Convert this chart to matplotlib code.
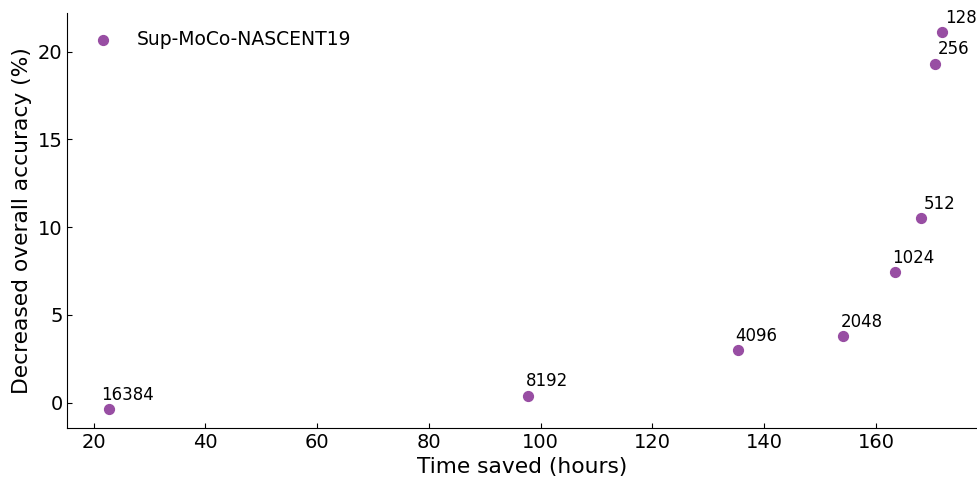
import matplotlib
matplotlib.use("Agg")
import matplotlib.pyplot as plt

# Queue size vs. time saved and accuracy drop
queue_sizes = ["16384", "8192", "4096", "2048", "1024", "512", "256", "128"]
time_saved = [22.7, 97.8, 135.3, 154.1, 163.4, 168.1, 170.6, 171.8]
acc_drop = [-0.36, 0.40, 3.01, 3.81, 7.44, 10.51, 19.32, 21.10]

color = "#984ea3"

fig, ax = plt.subplots(figsize=(9.77, 4.79), dpi=100)
ax.scatter(time_saved, acc_drop, s=50, color=color, label="Sup-MoCo-NASCENT19", zorder=3)

for x, y, lab in zip(time_saved, acc_drop, queue_sizes):
    ax.annotate(lab, (x, y), xytext=(13.4, 6.7), textcoords="offset points",
                fontsize=12, ha="center", va="baseline")

ax.set_xlim(15.3, 177.9)
ax.set_ylim(-1.42, 22.2)
ax.set_xticks([20, 40, 60, 80, 100, 120, 140, 160])
ax.set_yticks([0, 5, 10, 15, 20])
ax.tick_params(direction="in", labelsize=14)
ax.spines["top"].set_visible(False)
ax.spines["right"].set_visible(False)
ax.set_xlabel("Time saved (hours)", fontsize=15.7)
ax.set_ylabel("Decreased overall accuracy (%)", fontsize=15.7)
ax.legend(loc="upper left", frameon=False, fontsize=13.5, borderaxespad=0.5)

fig.subplots_adjust(left=0.069, right=0.999, bottom=0.107, top=0.973)
fig.savefig("out.png")
